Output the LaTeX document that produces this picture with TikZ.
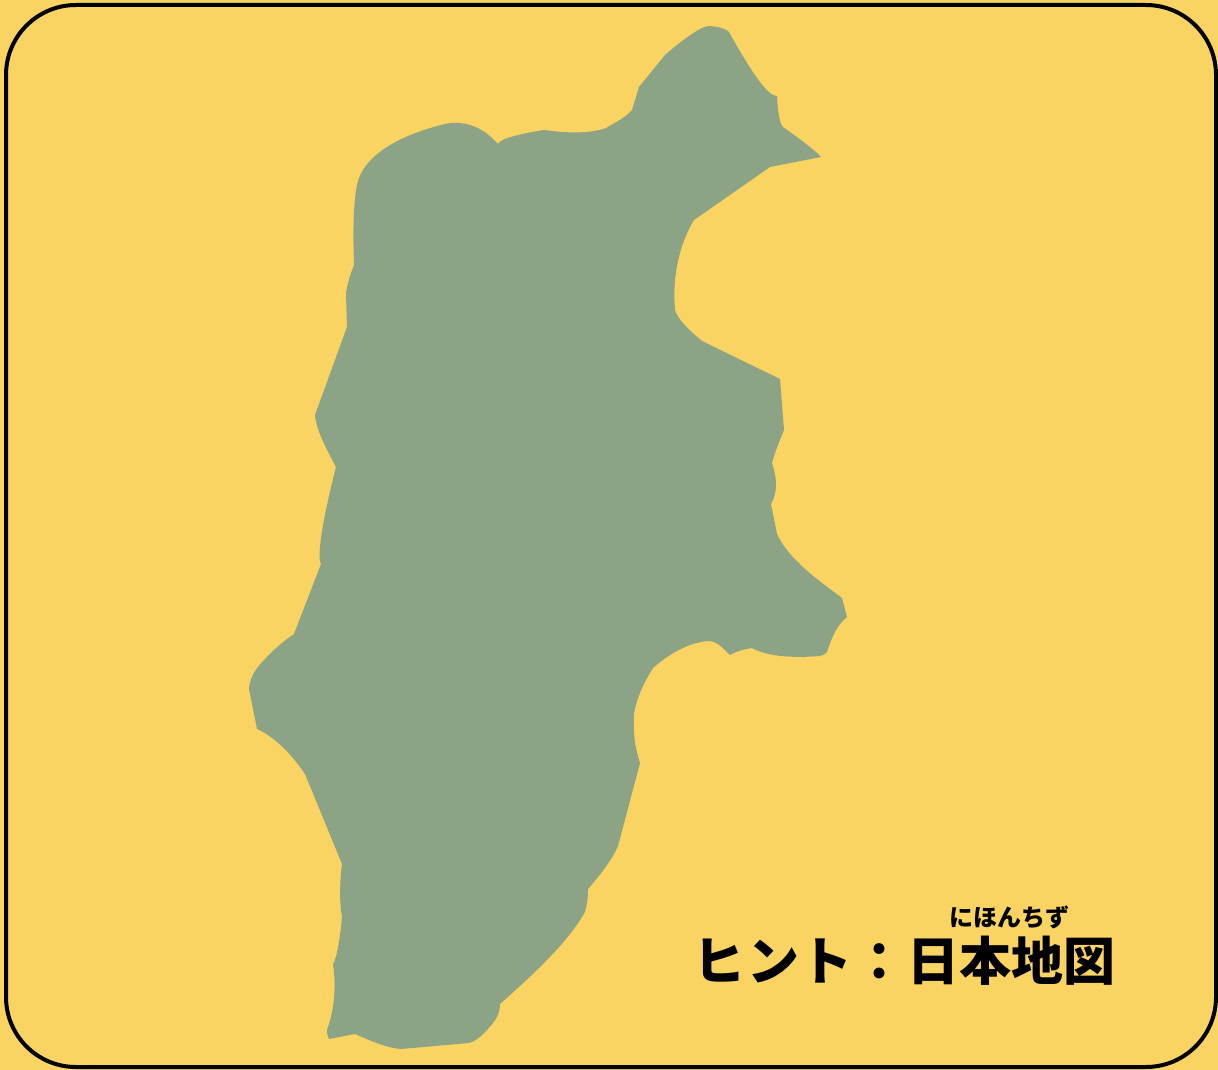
\documentclass[tikz,border=0pt]{standalone}
\usepackage{fontspec}
\newfontfamily\cjk{Noto Sans CJK JP Black}
\definecolor{bgyellow}{HTML}{F9D463}
\definecolor{mapgreen}{HTML}{8CA485}
\tikzset{
  hinttext/.style={inner sep=0pt,text=black,font=\cjk\fontsize{52}{52}\selectfont},
  rubytext/.style={inner sep=0pt,text=black,font=\cjk\fontsize{24}{24}\selectfont},
  frame/.style={draw=black,line width=4pt,rounded corners=70pt}
}
\begin{document}
\begin{tikzpicture}[x=1pt,y=-1pt]
\useasboundingbox (0,0) rectangle (1218,1070);
\fill[bgyellow] (0,0) rectangle (1218,1070);
\draw[frame] (6,5) rectangle (1216,1067);
\fill[mapgreen] (708,26) .. controls (715,26) and (725,28) .. (729,32)
 .. controls (750,70) and (768,97) .. (777,96)
 .. controls (778,115) and (780,124) .. (783,127)
 .. controls (800,139) and (817,152) .. (821,157)
 -- (770,167) -- (694,220)
 .. controls (680,243) and (672,275) .. (675,310)
 .. controls (678,320) and (690,331) .. (702,341)
 -- (780,379) -- (784,430)
 .. controls (779,442) and (774,455) .. (772,463)
 .. controls (777,478) and (778,492) .. (771,504)
 -- (777,534)
 .. controls (788,558) and (815,578) .. (842,598)
 -- (847,617)
 .. controls (838,624) and (832,636) .. (827,652)
 .. controls (826,654) and (823,655) .. (820,656)
 .. controls (795,658) and (768,657) .. (752,648)
 .. controls (745,649) and (737,651) .. (730,655)
 .. controls (722,647) and (716,641) .. (709,641)
 .. controls (690,642) and (670,653) .. (653,668)
 .. controls (643,684) and (636,700) .. (634,714)
 .. controls (633,733) and (635,748) .. (640,763)
 -- (618,846)
 .. controls (612,860) and (600,875) .. (588,889)
 .. controls (588,898) and (587,905) .. (585,912)
 .. controls (568,942) and (535,973) .. (500,1004)
 .. controls (500,1012) and (497,1018) .. (493,1023)
 .. controls (485,1033) and (477,1041) .. (469,1043)
 -- (401,1049)
 .. controls (387,1048) and (371,1041) .. (355,1034)
 -- (329,1039)
 .. controls (328,1037) and (327,1034) .. (327,1030)
 .. controls (335,1008) and (336,985) .. (333,964)
 .. controls (337,958) and (340,938) .. (342,917)
 .. controls (339,900) and (340,880) .. (342,864)
 -- (305,774)
 .. controls (290,752) and (273,736) .. (257,729)
 -- (249,689)
 .. controls (250,677) and (256,668) .. (265,659)
 .. controls (274,649) and (284,641) .. (294,634)
 -- (321,564)
 .. controls (316,555) and (325,510) .. (336,467)
 .. controls (327,450) and (316,430) .. (315,415)
 -- (347,327) -- (346,294)
 .. controls (347,285) and (350,275) .. (354,265)
 .. controls (353,235) and (353,205) .. (357,185)
 .. controls (363,155) and (400,135) .. (445,124)
 .. controls (465,120) and (483,127) .. (498,144)
 .. controls (500,138) and (525,133) .. (544,130)
 .. controls (565,133) and (590,134) .. (606,128)
 .. controls (616,122) and (625,118) .. (632,110)
 -- (639,87) -- (665,55)
 .. controls (680,42) and (698,28) .. (708,26) -- cycle;
\node[hinttext,anchor=east] (hint) at (1116,961) {ヒ\kern1.5ptン\kern1.5ptト\kern1pt：\kern2pt日本地図};
\node[rubytext,anchor=center] (ruby) at (1009,917) {にほんちず};
\end{tikzpicture}
\end{document}
